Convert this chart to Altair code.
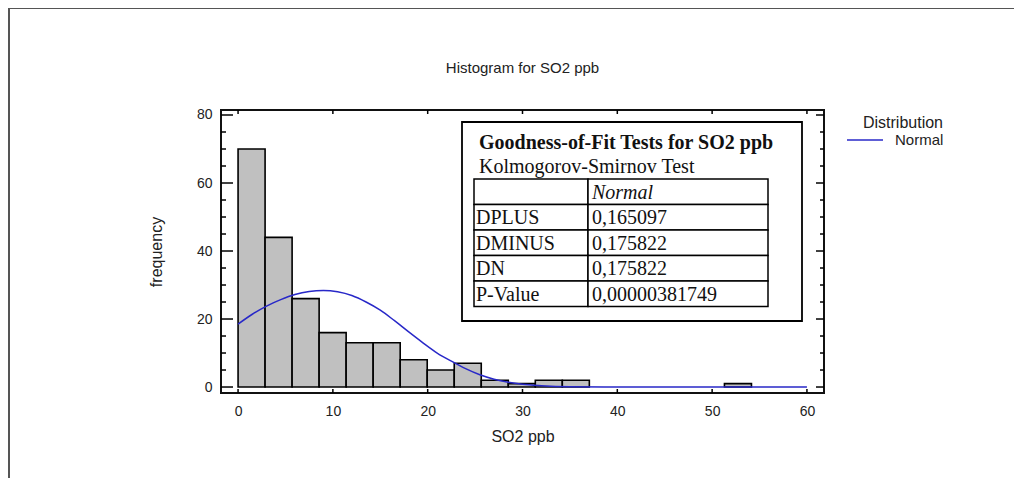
import altair as alt
import pandas as pd

# ---------------- data ----------------
bin_lo = [0.0, 2.85, 5.70, 8.55, 11.40, 14.25, 17.10, 19.95, 22.80, 25.65,
          28.50, 31.35, 34.20, 37.05, 39.90, 42.75, 45.60, 48.45, 51.30]
bin_hi = [2.85, 5.70, 8.55, 11.40, 14.25, 17.10, 19.95, 22.80, 25.65, 28.50,
          31.35, 34.20, 37.05, 39.90, 42.75, 45.60, 48.45, 51.30, 54.15]
freq = [70, 44, 26, 16, 13, 13, 8, 5, 7, 2, 1, 2, 2, 0, 0, 0, 0, 0, 1]

curve_x = [0, 1.5, 3, 4.5, 6, 7.5, 9, 10.5, 12, 13.5, 15, 16.5, 18, 19.5,
           21, 22.5, 24, 25.5, 27, 28.5, 30, 32, 35, 40, 45, 50, 55, 60]
curve_y = [18.5, 21.4, 23.8, 25.7, 27.2, 28.1, 28.4, 28.0, 26.9, 25.0,
           22.6, 19.5, 16.2, 13.0, 10.0, 7.6, 5.4, 3.6, 2.3, 1.4,
           0.8, 0.4, 0.1, 0.0, 0.0, 0.0, 0.0, 0.0]
dist_name = "Normal"

x_ticks = [0, 10, 20, 30, 40, 50, 60]
y_ticks = [0, 20, 40, 60, 80]
y_minor = [5, 10, 15, 25, 30, 35, 45, 50, 55, 65, 70, 75]

chart_title = "Histogram for SO2 ppb"
x_title = "SO2 ppb"
y_title = "frequency"
legend_title = "Distribution"

gof_title = "Goodness-of-Fit Tests for SO2 ppb"
gof_sub = "Kolmogorov-Smirnov Test"
gof_header = "Normal"
gof_labels = ["DPLUS", "DMINUS", "DN", "P-Value"]
gof_values = ["0,165097", "0,175822", "0,175822", "0,00000381749"]

# ---------------- layout / style ----------------
W, H = 603, 283
BLUE = "#2828c8"
SANS = "Liberation Sans"
SERIF = "Liberation Serif"

xs = alt.Scale(domain=[-1.8, 61.8], nice=False, zero=False)
ys = alt.Scale(domain=[-1.76, 81.47], nice=False, zero=False)

xaxis = alt.Axis(
    values=x_ticks, title=x_title, grid=False, domain=False, ticks=False,
    tickSize=0, labelPadding=11, labelFont=SANS, labelFontSize=14,
    labelColor="#222", titleFont=SANS, titleFontSize=16,
    titleFontWeight="normal", titleColor="#222", titleX=301.5, titleY=43,
    titleBaseline="middle", titleAlign="center")
yaxis = alt.Axis(
    values=y_ticks, title=y_title, grid=False, domain=False, ticks=False,
    tickSize=0, labelPadding=9, labelFont=SANS, labelFontSize=14,
    labelColor="#222", titleFont=SANS, titleFontSize=16,
    titleFontWeight="normal", titleColor="#222", titleX=-65, titleY=141.5,
    titleAngle=270, titleBaseline="middle", titleAlign="center")

hist_df = pd.DataFrame({"lo": bin_lo, "hi": bin_hi, "freq": freq,
                        "base": [0] * len(freq)})
curve_df = pd.DataFrame({"x": curve_x, "y": curve_y,
                         "dist": [dist_name] * len(curve_x)})

bars = alt.Chart(hist_df).transform_filter("datum.freq > 0").mark_rect(
    fill="#c0c0c0", stroke="#000", strokeWidth=1.6
).encode(
    x=alt.X("lo:Q", scale=xs, axis=xaxis),
    x2="hi:Q",
    y=alt.Y("freq:Q", scale=ys, axis=yaxis),
    y2="base:Q",
)

line = alt.Chart(curve_df).mark_line(strokeWidth=1.5, interpolate="monotone").encode(
    x=alt.X("x:Q", scale=xs, axis=xaxis),
    y=alt.Y("y:Q", scale=ys, axis=yaxis),
    color=alt.Color("dist:N", scale=alt.Scale(domain=[dist_name], range=[BLUE]),
                    legend=alt.Legend(
                        title=legend_title, orient="none", legendX=625, legendY=5,
                        symbolType="stroke", symbolSize=1296, symbolStrokeWidth=1.5,
                        labelOffset=11, labelFont=SANS, labelFontSize=15,
                        labelColor="#222", titleFont=SANS, titleFontSize=16,
                        titleFontWeight="normal", titleColor="#222",
                        titleAnchor="end", titlePadding=-10, padding=0)),
)

layers = [bars, line]

# inward tick marks on the four sides of the frame
def yrule(vals, x0, x1):
    return alt.Chart(pd.DataFrame({"v": vals})).mark_rule(
        color="#000", strokeWidth=1.5, clip=False).encode(
        y=alt.Y("v:Q", scale=ys, axis=yaxis), x=alt.value(x0), x2=alt.value(x1))

def xrule(vals, y0, y1):
    return alt.Chart(pd.DataFrame({"v": vals})).mark_rule(
        color="#000", strokeWidth=1.5, clip=False).encode(
        x=alt.X("v:Q", scale=xs, axis=xaxis), y=alt.value(y0), y2=alt.value(y1))

layers += [yrule(y_ticks, 0, 12), yrule(y_minor, 0, 5),
           yrule(y_ticks, W, W - 8), yrule(y_minor, W, W - 4),
           xrule(x_ticks, H, H - 4), xrule(x_ticks, 0, 4)]

one = pd.DataFrame({"a": [0]})

def rect(x0, x1, y0, y1, sw=1.5):
    return alt.Chart(one).mark_rect(fill="white", stroke="#000", strokeWidth=sw,
                                    clip=False).encode(
        x=alt.value(x0), x2=alt.value(x1), y=alt.value(y0), y2=alt.value(y1))

def text(t, x, y, size=20, weight="normal", style="normal", font=SERIF,
         color="#111", align="left"):
    return alt.Chart(pd.DataFrame({"t": [t]})).mark_text(
        font=font, fontSize=size, fontWeight=weight, fontStyle=style,
        color=color, align=align, baseline="middle", clip=False).encode(
        x=alt.value(x), y=alt.value(y), text="t:N")

# chart title
layers.append(text(chart_title, W / 2, -42, size=15, font=SANS, color="#222",
                   align="center"))

# goodness-of-fit inset
BX0, BX1, BY0, BY1 = 241, 581, 12, 211
TX0, TXM, TX1 = 253, 367, 547
TY0, RH = 69, 25.5
layers.append(rect(BX0, BX1, BY0, BY1, 1.8))
layers.append(text(gof_title, 258, 33, weight="bold"))
layers.append(text(gof_sub, 258, 57))
for r in range(len(gof_labels) + 1):
    y0 = TY0 + RH * r
    layers.append(rect(TX0, TXM, y0, y0 + RH))
    layers.append(rect(TXM, TX1, y0, y0 + RH))
layers.append(text(gof_header, TXM + 4, TY0 + RH / 2 + 1, style="italic"))
for i, (lab, val) in enumerate(zip(gof_labels, gof_values)):
    yc = TY0 + RH * (i + 1) + RH / 2 + 1
    layers.append(text(lab, TX0 + 2, yc))
    layers.append(text(val, TXM + 4, yc))

# outer window frame (left and top edges)
layers.append(alt.Chart(one).mark_rule(color="#555", strokeWidth=2, clip=False).encode(
    x=alt.value(-212), y=alt.value(-102), y2=alt.value(H + 90)))
layers.append(alt.Chart(one).mark_rule(color="#555", strokeWidth=2, clip=False).encode(
    x=alt.value(-212), x2=alt.value(W + 190), y=alt.value(-102)))

chart = alt.layer(*layers).properties(
    width=W, height=H,
    autosize=alt.AutoSizeParams(type="none"),
    padding={"left": 213, "top": 102, "right": 190, "bottom": 85},
    background="white",
).configure_view(stroke="#111", strokeWidth=2)

chart.save("out.html", embed_options={"renderer": "svg", "actions": False})
